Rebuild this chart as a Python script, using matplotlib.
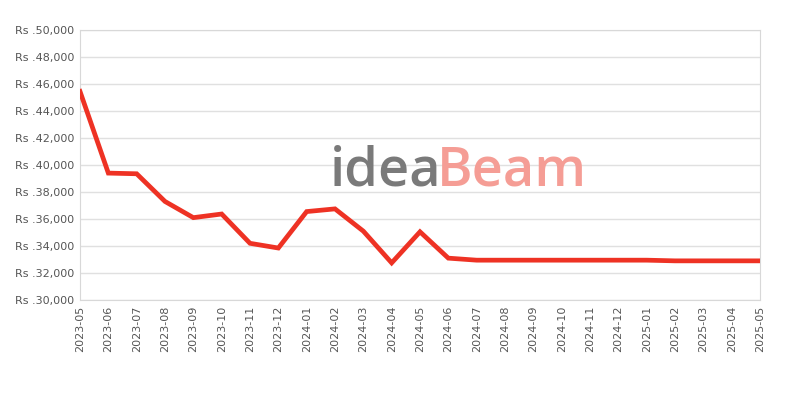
import matplotlib.pyplot as plt
from matplotlib.ticker import FuncFormatter

months = ["2023-05", "2023-06", "2023-07", "2023-08", "2023-09", "2023-10",
          "2023-11", "2023-12", "2024-01", "2024-02", "2024-03", "2024-04",
          "2024-05", "2024-06", "2024-07", "2024-08", "2024-09", "2024-10",
          "2024-11", "2024-12", "2025-01", "2025-02", "2025-03", "2025-04",
          "2025-05"]
prices = [45450, 39400, 39350, 37300, 36100, 36370, 34200, 33850, 36550,
          36750, 35100, 32750, 35050, 33100, 32950, 32950, 32950, 32950,
          32950, 32950, 32950, 32900, 32900, 32900, 32900]

fig = plt.figure(figsize=(8, 4), dpi=100)
ax = fig.add_axes([0.1, 0.25, 0.85, 0.675])

x = list(range(len(months)))
ax.plot(x, prices, color="#ee3224", linewidth=3.4, solid_joinstyle="miter", zorder=3)

ax.set_xlim(0, len(months) - 1)
ax.set_ylim(30000, 50000)
ax.set_yticks(range(30000, 50001, 2000))
ax.yaxis.set_major_formatter(FuncFormatter(lambda v, p: "Rs .{:,.0f}".format(v)))
ax.set_xticks(x)
ax.set_xticklabels(months, rotation=90)

ax.grid(axis="y", color="#e0e0e0", linewidth=1)
ax.set_axisbelow(True)
for s in ax.spines.values():
    s.set_color("#d8d8d8")
ax.tick_params(axis="both", length=0, labelsize=8, labelcolor="#555555", pad=4)

# watermark
ax.text(0.368, 0.475, "idea", transform=ax.transAxes, fontsize=39, color="#7a7a7a",
        family="Open Sans", weight="semibold", ha="left", va="center", zorder=1)
ax.text(0.525, 0.475, "Beam", transform=ax.transAxes, fontsize=39, color="#f59d95",
        family="Open Sans", weight="semibold", ha="left", va="center", zorder=1)

fig.savefig("out.png", dpi=100)
